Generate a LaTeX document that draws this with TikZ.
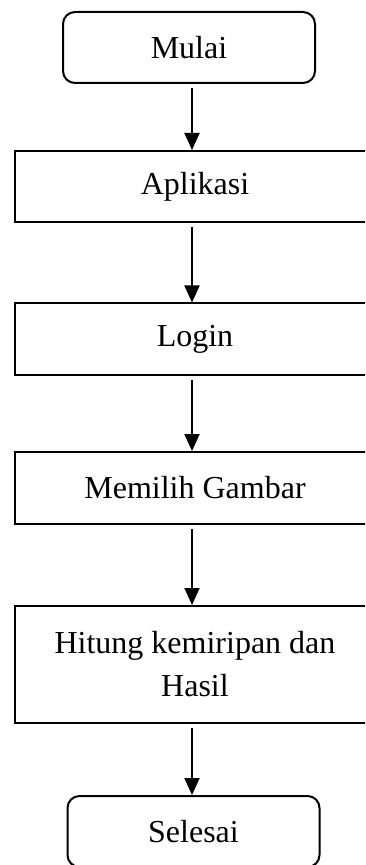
\documentclass[tikz,border=0pt]{standalone}
\usepackage{fontspec}
\setmainfont{Liberation Serif}
\usetikzlibrary{positioning, arrows.meta}

\begin{document}
\begin{tikzpicture}[
        x=0.5pt, y=-0.5pt,
        >={Triangle[length=8.5pt, width=7.5pt]},
        font=\fontsize{16}{21.5}\selectfont,
        % Styles for nodes
        terminal/.style={
            rectangle, rounded corners=6pt, draw, line width=1pt,
            minimum width=126pt, minimum height=35.5pt,
            inner sep=0pt, align=center
        },
        process/.style={
            rectangle, draw, line width=1pt,
            minimum width=180pt, minimum height=35.5pt,
            inner sep=0pt, align=center
        },
        % Style for connecting lines
        conn/.style={
            draw, line width=1pt, ->, shorten <=2pt
        }
    ]

    \useasboundingbox (0,0) rectangle (365,865);
    \clip (0,0) rectangle (365,865);

    % 1. FLOW NODES
    \node[terminal] (Mulai)   at (189, 47.5)  {Mulai};
    \node[process]  (Apl)     at (195, 186.5) {Aplikasi};
    \node[process]  (Login)   at (195, 339)   {Login};
    \node[process, minimum height=36pt] (Pilih) at (195, 488) {Memilih Gambar};
    \node[process, minimum height=58.5pt] (Hitung) at (195, 664.5) {Hitung kemiripan dan\\Hasil};
    \node[terminal] (Selesai) at (193.5, 831.5) {Selesai};

    % 2. CONNECTORS
    \coordinate (axis) at (192, 0);
    \draw[conn] (axis |- Mulai.south)  -- (axis |- Apl.north);
    \draw[conn] (axis |- Apl.south)    -- (axis |- Login.north);
    \draw[conn] (axis |- Login.south)  -- (axis |- Pilih.north);
    \draw[conn] (axis |- Pilih.south)  -- (axis |- Hitung.north);
    \draw[conn] (axis |- Hitung.south) -- (axis |- Selesai.north);

\end{tikzpicture}
\end{document}
